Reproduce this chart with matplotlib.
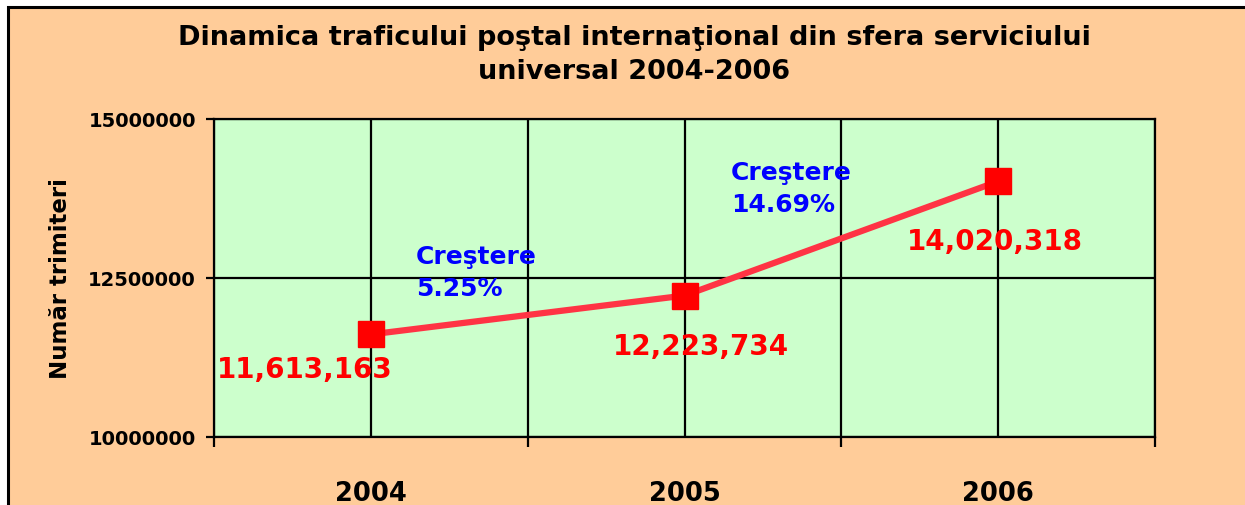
import matplotlib
matplotlib.use('Agg')
import matplotlib.pyplot as plt
from matplotlib.patches import Rectangle

years = ['2004', '2005', '2006']
trimiteri = [11613163, 12223734, 14020318]
crestere = ['5.25%', '14.69%']
yticks = [10000000, 12500000, 15000000]

plt.rcParams['font.family'] = 'DejaVu Sans'
plt.rcParams['font.weight'] = 'bold'

fig = plt.figure(figsize=(12.45, 5.06), dpi=100, facecolor='white')
# chart area with frame (cut at right/bottom like the source)
fig.add_artist(Rectangle((7.5 / 1245, -0.05), 1.1, 1 - 8 / 506 + 0.05,
                         transform=fig.transFigure, fc='#FFCC99', ec='black',
                         lw=2.2, zorder=-10))

ax = fig.add_axes([214 / 1245, 1 - 438 / 506, 941 / 1245, 318 / 506])
ax.set_facecolor('#CCFFCC')

x = range(len(years))
ax.plot(x, trimiteri, '-', color='#FF3344', linewidth=4.5, zorder=3)
ax.plot(x, trimiteri, 's', color='#FF0000', markersize=19, zorder=4)

ax.set_xlim(-0.5, 2.5)
ax.set_ylim(10000000, 15000000)
ax.set_xticks(list(x))
ax.set_xticklabels(years, fontsize=18.5, fontweight='bold')
ax.set_xticks([-0.5, 0.5, 1.5, 2.5], minor=True)
ax.tick_params(axis='x', which='major', length=0, pad=31)
ax.tick_params(axis='x', which='minor', length=7, width=1.6, direction='out')
ax.set_yticks(yticks)
ax.set_yticklabels([str(v) for v in yticks], fontsize=14, fontweight='bold')
ax.tick_params(axis='y', length=6, width=1.6, pad=7)

ax.grid(True, which='both', axis='x', color='black', linewidth=1.6)
ax.grid(True, which='major', axis='y', color='black', linewidth=1.6)
for s in ax.spines.values():
    s.set_linewidth(1.6)

ax.set_ylabel('Număr trimiteri', fontsize=16.5, fontweight='bold', labelpad=12)

fig.text(634 / 1245, 1 - 38 / 506,
         'Dinamica traficului poştal internaţional din sfera serviciului',
         ha='center', va='center', fontsize=19.5, fontweight='bold')
fig.text(634 / 1245, 1 - 72 / 506, 'universal 2004-2006',
         ha='center', va='center', fontsize=19.5, fontweight='bold')

# value labels
offsets = [(-66, -35), (16, -50), (-3, -60)]
for xi, v, off in zip(x, trimiteri, offsets):
    ax.annotate(f'{v:,}', (xi, v), xytext=off, textcoords='offset pixels',
                ha='center', va='center', color='#FF0000', fontsize=20,
                fontweight='bold', zorder=5)

# growth labels
growth_pos = [(0.144, 13030000), (1.148, 14350000)]
for (gx, gy), c in zip(growth_pos, crestere):
    ax.text(gx, gy, 'Creştere\n' + c, ha='left', va='top', color='#0000FF',
            fontsize=18, fontweight='bold', linespacing=1.4, zorder=5)

fig.savefig('out.png', dpi=100)
